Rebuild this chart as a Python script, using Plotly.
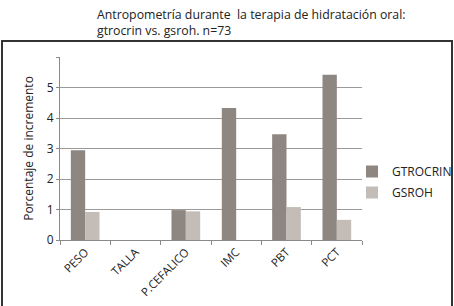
import plotly.graph_objects as go

categories = ["PESO", "TALLA", "P.CEFALICO", "IMC", "PBT", "PCT"]
gtrocrin = [2.94, 0, 0.98, 4.33, 3.47, 5.42]
gsroh = [0.92, 0, 0.94, 0, 1.08, 0.66]
y_ticks = [0, 1, 2, 3, 4, 5, 6]
y_tick_text = ["0", "1", "2", "3", "4", "5", ""]

FONT = "Open Sans"
W, H = 454, 306
L, R, T, B = 60, 92, 57, 66
pw, ph = W - L - R, H - T - B

fig = go.Figure()
fig.add_trace(go.Bar(x=categories, y=gtrocrin, name="GTROCRIN", legendgroup="a",
                     marker=dict(color="#8e8680", line=dict(width=0))))
fig.add_trace(go.Bar(x=categories, y=gsroh, name="GSROH", legendgroup="b",
                     marker=dict(color="#c4bdb7", line=dict(width=0))))

fig.update_layout(
    width=W, height=H,
    margin=dict(l=L, r=R, t=T, b=B, pad=0, autoexpand=False),
    paper_bgcolor="white", plot_bgcolor="rgba(0,0,0,0)",
    font=dict(family=FONT, size=12, color="#222"),
    barmode="group", bargap=0.43, bargroupgap=0,
    legend=dict(xref="container", yref="container",
                x=352 / W, xanchor="left", y=1 - 157 / H, yanchor="top",
                font=dict(family=FONT, size=12, color="#222"),
                bgcolor="rgba(0,0,0,0)", itemwidth=30, tracegroupgap=2,
                traceorder="grouped"),
    showlegend=True,
)
fig.update_xaxes(showline=True, linecolor="#8a8a8a", linewidth=1, automargin=False,
                 ticks="outside", ticklen=4, tickcolor="#8a8a8a", tickson="boundaries",
                 tickangle=-45, tickfont=dict(family=FONT, size=11.5, color="#222"),
                 showgrid=False)
fig.update_yaxes(range=[0, 6], tickmode="array", tickvals=y_ticks, ticktext=y_tick_text,
                 showline=True, linecolor="#8a8a8a", linewidth=1, automargin=False,
                 ticks="outside", ticklen=3, tickcolor="#8a8a8a",
                 showgrid=True, gridcolor="#9a9a9a", gridwidth=1, zeroline=False,
                 tickfont=dict(family=FONT, size=12, color="#222"),
                 title=dict(text="Porcentaje de incremento", standoff=10,
                            font=dict(family=FONT, size=12, color="#222")))

fig.add_annotation(text="Antropometría durante  la terapia de hidratación oral:<br>gtrocrin vs. gsroh. n=73",
                   xref="paper", yref="paper", x=(95 - L) / pw, y=(240 - 4) / ph,
                   xanchor="left", yanchor="top", align="left", showarrow=False,
                   font=dict(family=FONT, size=12.3, color="#222"))

fig.add_shape(type="rect", xref="paper", yref="paper",
              x0=(2 - L) / pw, x1=(452 - L) / pw,
              y0=(240 - 320) / ph, y1=(240 - 41) / ph,
              line=dict(color="#333", width=2), fillcolor="rgba(0,0,0,0)", layer="above")

fig.write_html("out.html", config={"displayModeBar": False},
               post_script="document.body.style.margin='0';document.body.style.overflow='hidden';")
